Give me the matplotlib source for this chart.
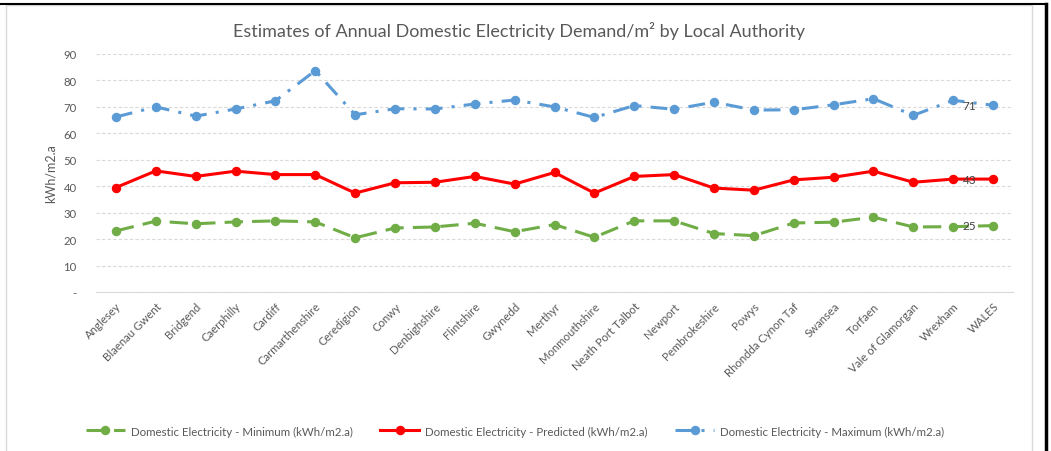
import matplotlib
matplotlib.use('Agg')
from matplotlib import pyplot as plt
from matplotlib.patches import Rectangle
from matplotlib.lines import Line2D

plt.rcParams['font.family'] = ['Lato', 'DejaVu Sans']

authorities = [
    'Anglesey', 'Blaenau Gwent', 'Bridgend', 'Caerphilly', 'Cardiff',
    'Carmarthenshire', 'Ceredigion', 'Conwy', 'Denbighshire', 'Flintshire',
    'Gwynedd', 'Merthyr', 'Monmouthshire', 'Neath Port Talbot', 'Newport',
    'Pembrokeshire', 'Powys', 'Rhondda Cynon Taf', 'Swansea', 'Torfaen',
    'Vale of Glamorgan', 'Wrexham', 'WALES',
]
elec_min = [23.1, 26.8, 25.8, 26.5, 26.9, 26.5, 20.5, 24.2, 24.6, 26.0, 22.8, 25.5,
            20.7, 26.9, 26.9, 22.1, 21.3, 26.1, 26.4, 28.3, 24.6, 24.7, 25.1]
elec_pred = [39.5, 45.8, 43.7, 45.7, 44.4, 44.4, 37.4, 41.3, 41.5, 43.7, 40.8, 45.2,
             37.4, 43.7, 44.4, 39.3, 38.5, 42.4, 43.4, 45.7, 41.5, 42.7, 42.7]
elec_max = [66.2, 70.0, 66.5, 69.2, 72.3, 83.7, 67.0, 69.3, 69.2, 71.1, 72.6, 70.0,
            66.0, 70.5, 69.1, 71.8, 68.8, 68.9, 70.8, 73.1, 66.8, 72.5, 70.6]
y_ticks = [0, 10, 20, 30, 40, 50, 60, 70, 80, 90]
y_tick_labels = ['-', '10', '20', '30', '40', '50', '60', '70', '80', '90']

GREEN = '#70AD47'
RED = '#FF0000'
BLUE = '#5B9BD5'
TXT = '#595959'

W, H = 1051, 452
fig = plt.figure(figsize=(W / 100, H / 100), dpi=100)
fig.patch.set_facecolor('white')

# chart frame (grey) and the black screenshot border
fig.patches.append(Rectangle((6 / W, -0.01), 1026 / W, (H - 6) / H + 0.01,
                             transform=fig.transFigure, fill=False,
                             edgecolor='#D9D9D9', lw=1))
fig.add_artist(Line2D([0, 1047 / W], [1 - 5 / H, 1 - 5 / H], transform=fig.transFigure,
                      color='black', lw=1.5))
fig.add_artist(Line2D([1046 / W, 1046 / W], [0, 1 - 5 / H], transform=fig.transFigure,
                      color='black', lw=2.5))

ax = fig.add_axes([96 / W, 1 - 293 / H, (1013 - 96) / W, (293 - 55) / H])
x = list(range(len(authorities)))

ax.plot(x, elec_min, color=GREEN, lw=2.2, dashes=(6, 3), marker='o', ms=5.8,
        label='Domestic Electricity - Minimum (kWh/m2.a)')
ax.plot(x, elec_pred, color=RED, lw=2.2, marker='o', ms=5.8,
        label='Domestic Electricity - Predicted (kWh/m2.a)')
ax.plot(x, elec_max, color=BLUE, lw=2.2, dashes=(5.5, 3, 1, 3), marker='o', ms=5.8,
        label='Domestic Electricity - Maximum (kWh/m2.a)')

# data labels on the last point
for series in (elec_min, elec_pred, elec_max):
    ax.annotate(f'{series[-1]:.0f}', (x[-1], series[-1]), xytext=(-17, 0),
                textcoords='offset points', ha='center', va='center',
                fontsize=8.5, color='#404040')

ax.set_xlim(-0.5, len(authorities) - 0.5)
ax.set_ylim(0, 90)
ax.set_yticks(y_ticks)
ax.set_yticklabels(y_tick_labels)
ax.set_xticks(x)
ax.set_xticklabels(authorities, rotation=45, ha='right', rotation_mode='anchor')
ax.tick_params(axis='both', length=0, labelsize=8.2, labelcolor=TXT)
ax.tick_params(axis='y', pad=14)
ax.tick_params(axis='x', pad=6)

ax.grid(axis='y', color='#D9D9D9', linestyle=(0, (3, 2)), lw=0.8)
ax.set_axisbelow(True)
for side in ('top', 'right', 'left'):
    ax.spines[side].set_visible(False)
ax.spines['bottom'].set_color('#D9D9D9')

ax.set_ylabel('kWh/m2.a', fontsize=9, color=TXT, labelpad=5)
fig.suptitle('Estimates of Annual Domestic Electricity Demand/m\u00b2 by Local Authority',
             x=519 / W, y=1 - 31 / H, va='center', fontsize=13, color=TXT)

fig.legend(loc='center', bbox_to_anchor=(515 / W, 1 - 432 / H), ncol=3, frameon=False,
           fontsize=8.3, labelcolor=TXT, columnspacing=2.4, handlelength=3.4,
           handletextpad=0.5)

fig.savefig('out.png', dpi=100)
